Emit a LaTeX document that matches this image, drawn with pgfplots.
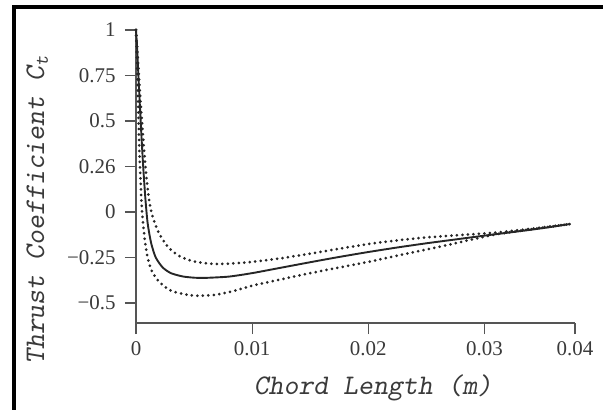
\documentclass[border=0pt]{standalone}
\usepackage{fontspec}
\setmainfont{Liberation Serif}
\usepackage{pgfplots}
\pgfplotsset{compat=1.18}
\definecolor{AxisGray}{HTML}{555555}
\definecolor{TextGray}{HTML}{3A3A3A}
\begin{document}
\begin{tikzpicture}
\useasboundingbox (0bp,0bp) rectangle (603bp,410bp);
\draw[line width=4bp] (14bp,0bp) -- (14bp,403bp) -- (603bp,403bp);
\begin{axis}[at={(136bp,87bp)},anchor=south west,scale only axis,width=439bp,height=293bp,
  xmin=0,xmax=0.0378,ymin=-0.61,ymax=1,
  axis x line*=bottom,axis y line*=left,
  axis line style={AxisGray,line width=1.3bp},
  tick style={AxisGray,line width=1.2bp},
  tick align=outside,major tick length=11bp,
  xtick={0,0.01,0.02,0.03,0.0378},xticklabels={0,0.01,0.02,0.03,0.04},
  ytick={-0.5,-0.25,0,0.25,0.5,0.75,1},yticklabels={−0.5,−0.25,0,0.26,0.5,0.75,1},
  scaled x ticks=false,
  ticklabel style={font=\fontsize{21}{25}\selectfont,text=TextGray},
  yticklabel style={xshift=-6bp},
  xticklabel style={yshift=-4bp},
  xlabel={Chord Length (m)},ylabel={Thrust Coefficient C\textsubscript{t}},
  label style={font=\ttfamily\slshape\fontsize{28.5}{32}\selectfont,text=TextGray},
  xlabel style={at={(axis description cs:0.54,-0.222)},anchor=center},
  ylabel style={at={(axis description cs:-0.225,0.385)},anchor=center},
  clip=false]
% mean
\addplot[black!85,line width=1.9bp,smooth,tension=0.4] coordinates {(0,1) (0.0001,0.9) (0.0002,0.76) (0.0004,0.5) (0.0006,0.27) (0.0008,0.08) (0.0010,-0.06) (0.0013,-0.17) (0.0017,-0.25) (0.0023,-0.305) (0.003,-0.336) (0.004,-0.354) (0.005,-0.361) (0.006,-0.362) (0.008,-0.355) (0.010,-0.336) (0.0125,-0.306) (0.015,-0.276) (0.0175,-0.247) (0.020,-0.22) (0.0225,-0.195) (0.025,-0.172) (0.0275,-0.151) (0.030,-0.13) (0.0325,-0.11) (0.035,-0.089) (0.0374,-0.066)};
% upper bound
\addplot[black!85,line width=3bp,line cap=round,dash pattern=on 0bp off 5.5bp,smooth,tension=0.4] coordinates {(0,1) (0.0002,0.8) (0.0004,0.6) (0.0006,0.42) (0.0008,0.26) (0.001,0.13) (0.0012,0.04) (0.0015,-0.04) (0.002,-0.12) (0.0028,-0.195) (0.0038,-0.245) (0.005,-0.272) (0.0066,-0.285) (0.008,-0.284) (0.010,-0.274) (0.0125,-0.254) (0.015,-0.229) (0.0175,-0.202) (0.020,-0.176) (0.0225,-0.156) (0.025,-0.14) (0.0285,-0.124) (0.031,-0.113) (0.034,-0.092) (0.0374,-0.066)};
% lower bound
\addplot[black!85,line width=3bp,line cap=round,dash pattern=on 0bp off 5.5bp,smooth,tension=0.4] coordinates {(0,1) (0.0001,0.8) (0.0002,0.56) (0.0003,0.32) (0.0005,0.02) (0.0007,-0.12) (0.00095,-0.235) (0.0013,-0.315) (0.0018,-0.37) (0.0025,-0.412) (0.0032,-0.437) (0.0045,-0.456) (0.0055,-0.46) (0.007,-0.454) (0.0085,-0.432) (0.010,-0.405) (0.0125,-0.37) (0.015,-0.336) (0.0175,-0.305) (0.020,-0.274) (0.0225,-0.24) (0.025,-0.206) (0.0275,-0.172) (0.0285,-0.157) (0.031,-0.123) (0.034,-0.095) (0.0374,-0.066)};
\end{axis}
\end{tikzpicture}
\end{document}
